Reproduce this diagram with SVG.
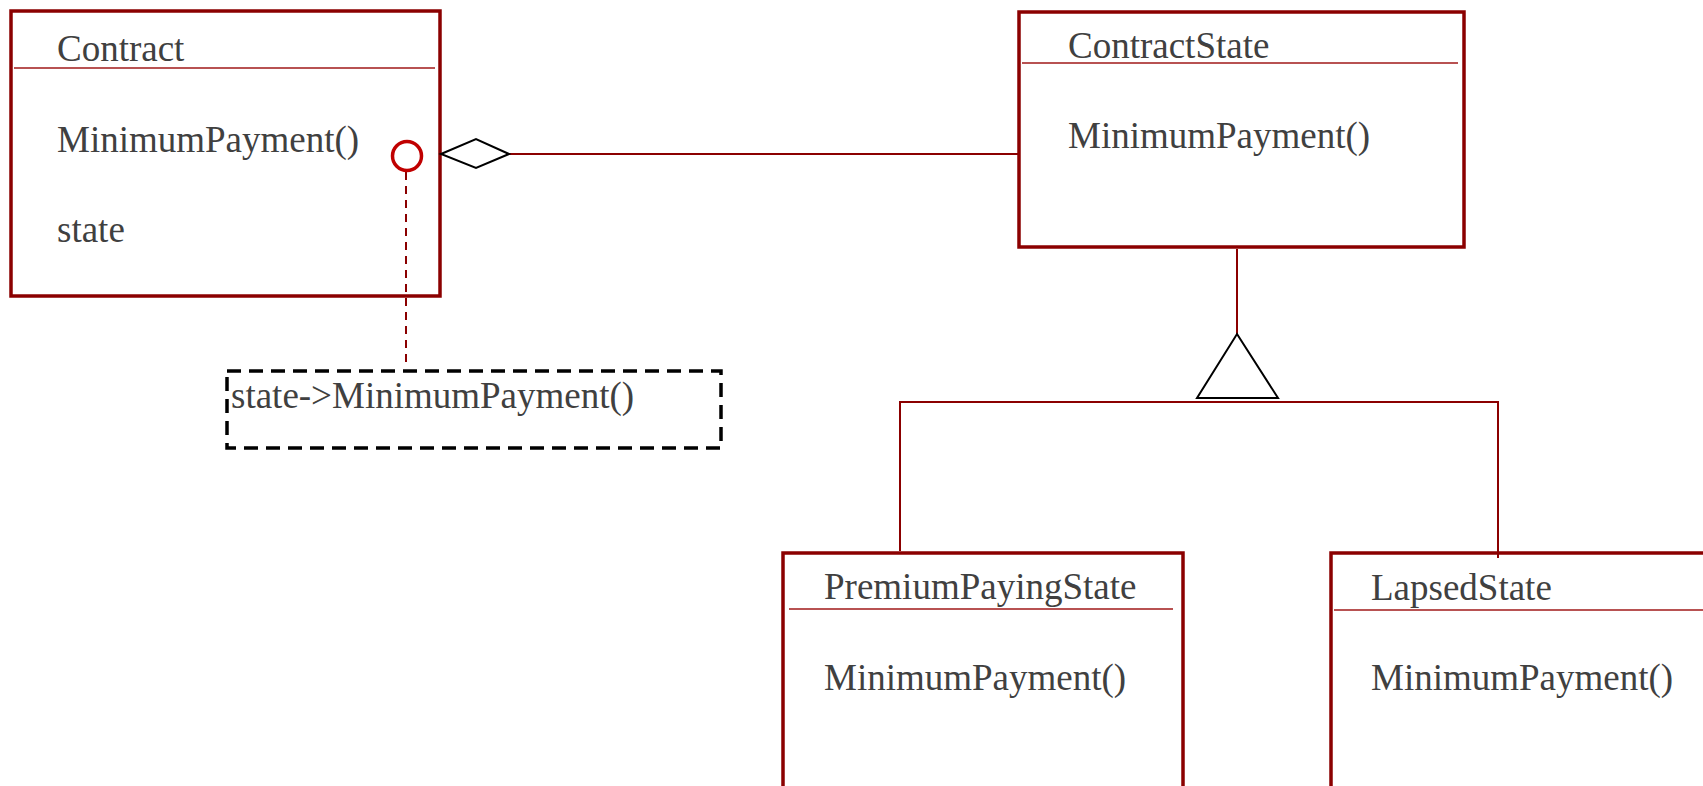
<svg xmlns="http://www.w3.org/2000/svg" width="1703" height="786" viewBox="0 0 1703 786">
  <style>
    .box { fill: #ffffff; stroke: #8b0000; stroke-width: 3.5; }
    .sep { stroke: #a01818; stroke-width: 1.6; }
    .txt { font-family: "Liberation Serif", "Times New Roman", serif; font-size: 37px; fill: #404040; }
    .link { stroke: #8b0000; stroke-width: 2; fill: none; }
    .head { stroke: #000000; stroke-width: 2; fill: #ffffff; }
  </style>
  <rect width="1703" height="786" fill="#ffffff"/>

  <!-- Contract -->
  <g id="contract">
    <rect class="box" x="11" y="11" width="429" height="285"/>
    <line class="sep" x1="14" y1="68" x2="435" y2="68"/>
    <text class="txt" x="57" y="61">Contract</text>
    <text class="txt" x="57" y="152">MinimumPayment()</text>
    <text class="txt" x="57" y="242">state</text>
  </g>

  <!-- note -->
  <g id="note">
    <rect x="227" y="371" width="494" height="77" fill="none" stroke="#000000" stroke-width="3.5" stroke-dasharray="14,8"/>
    <text class="txt" x="231" y="408">state-&gt;MinimumPayment()</text>
  </g>

  <!-- ContractState -->
  <g id="contract-state">
    <rect class="box" x="1019" y="12" width="445" height="235"/>
    <line class="sep" x1="1022" y1="63" x2="1458" y2="63"/>
    <text class="txt" x="1068" y="58">ContractState</text>
    <text class="txt" x="1068" y="148">MinimumPayment()</text>
  </g>

  <!-- PremiumPayingState -->
  <g id="premium-paying-state">
    <rect class="box" x="783" y="553" width="400" height="260"/>
    <line class="sep" x1="789" y1="609" x2="1173" y2="609"/>
    <text class="txt" x="824" y="599">PremiumPayingState</text>
    <text class="txt" x="824" y="690">MinimumPayment()</text>
  </g>

  <!-- LapsedState -->
  <g id="lapsed-state">
    <rect class="box" x="1331" y="553" width="420" height="260"/>
    <line class="sep" x1="1334" y1="610" x2="1703" y2="610"/>
    <text class="txt" x="1371" y="600">LapsedState</text>
    <text class="txt" x="1371" y="690">MinimumPayment()</text>
  </g>

  <!-- connectors (drawn last so they sit on top of the boxes) -->
  <g id="connectors">
    <!-- aggregation: Contract <>— ContractState -->
    <line class="link" x1="509" y1="154" x2="1019" y2="154"/>
    <polygon class="head" points="441,154 476,139 509,154 476,168"/>
    <!-- note anchor -->
    <line x1="406" y1="172" x2="406" y2="368" stroke="#8b0000" stroke-width="2" stroke-dasharray="8,6"/>
    <circle cx="407" cy="156" r="14.5" fill="#ffffff" stroke="#c00000" stroke-width="3.5"/>
    <!-- generalization tree -->
    <line class="link" x1="1237" y1="249" x2="1237" y2="334"/>
    <polyline class="link" points="900,551 900,402 1498,402 1498,558"/>
    <polygon class="head" points="1237,334 1278,398 1197,398"/>
  </g>
</svg>
